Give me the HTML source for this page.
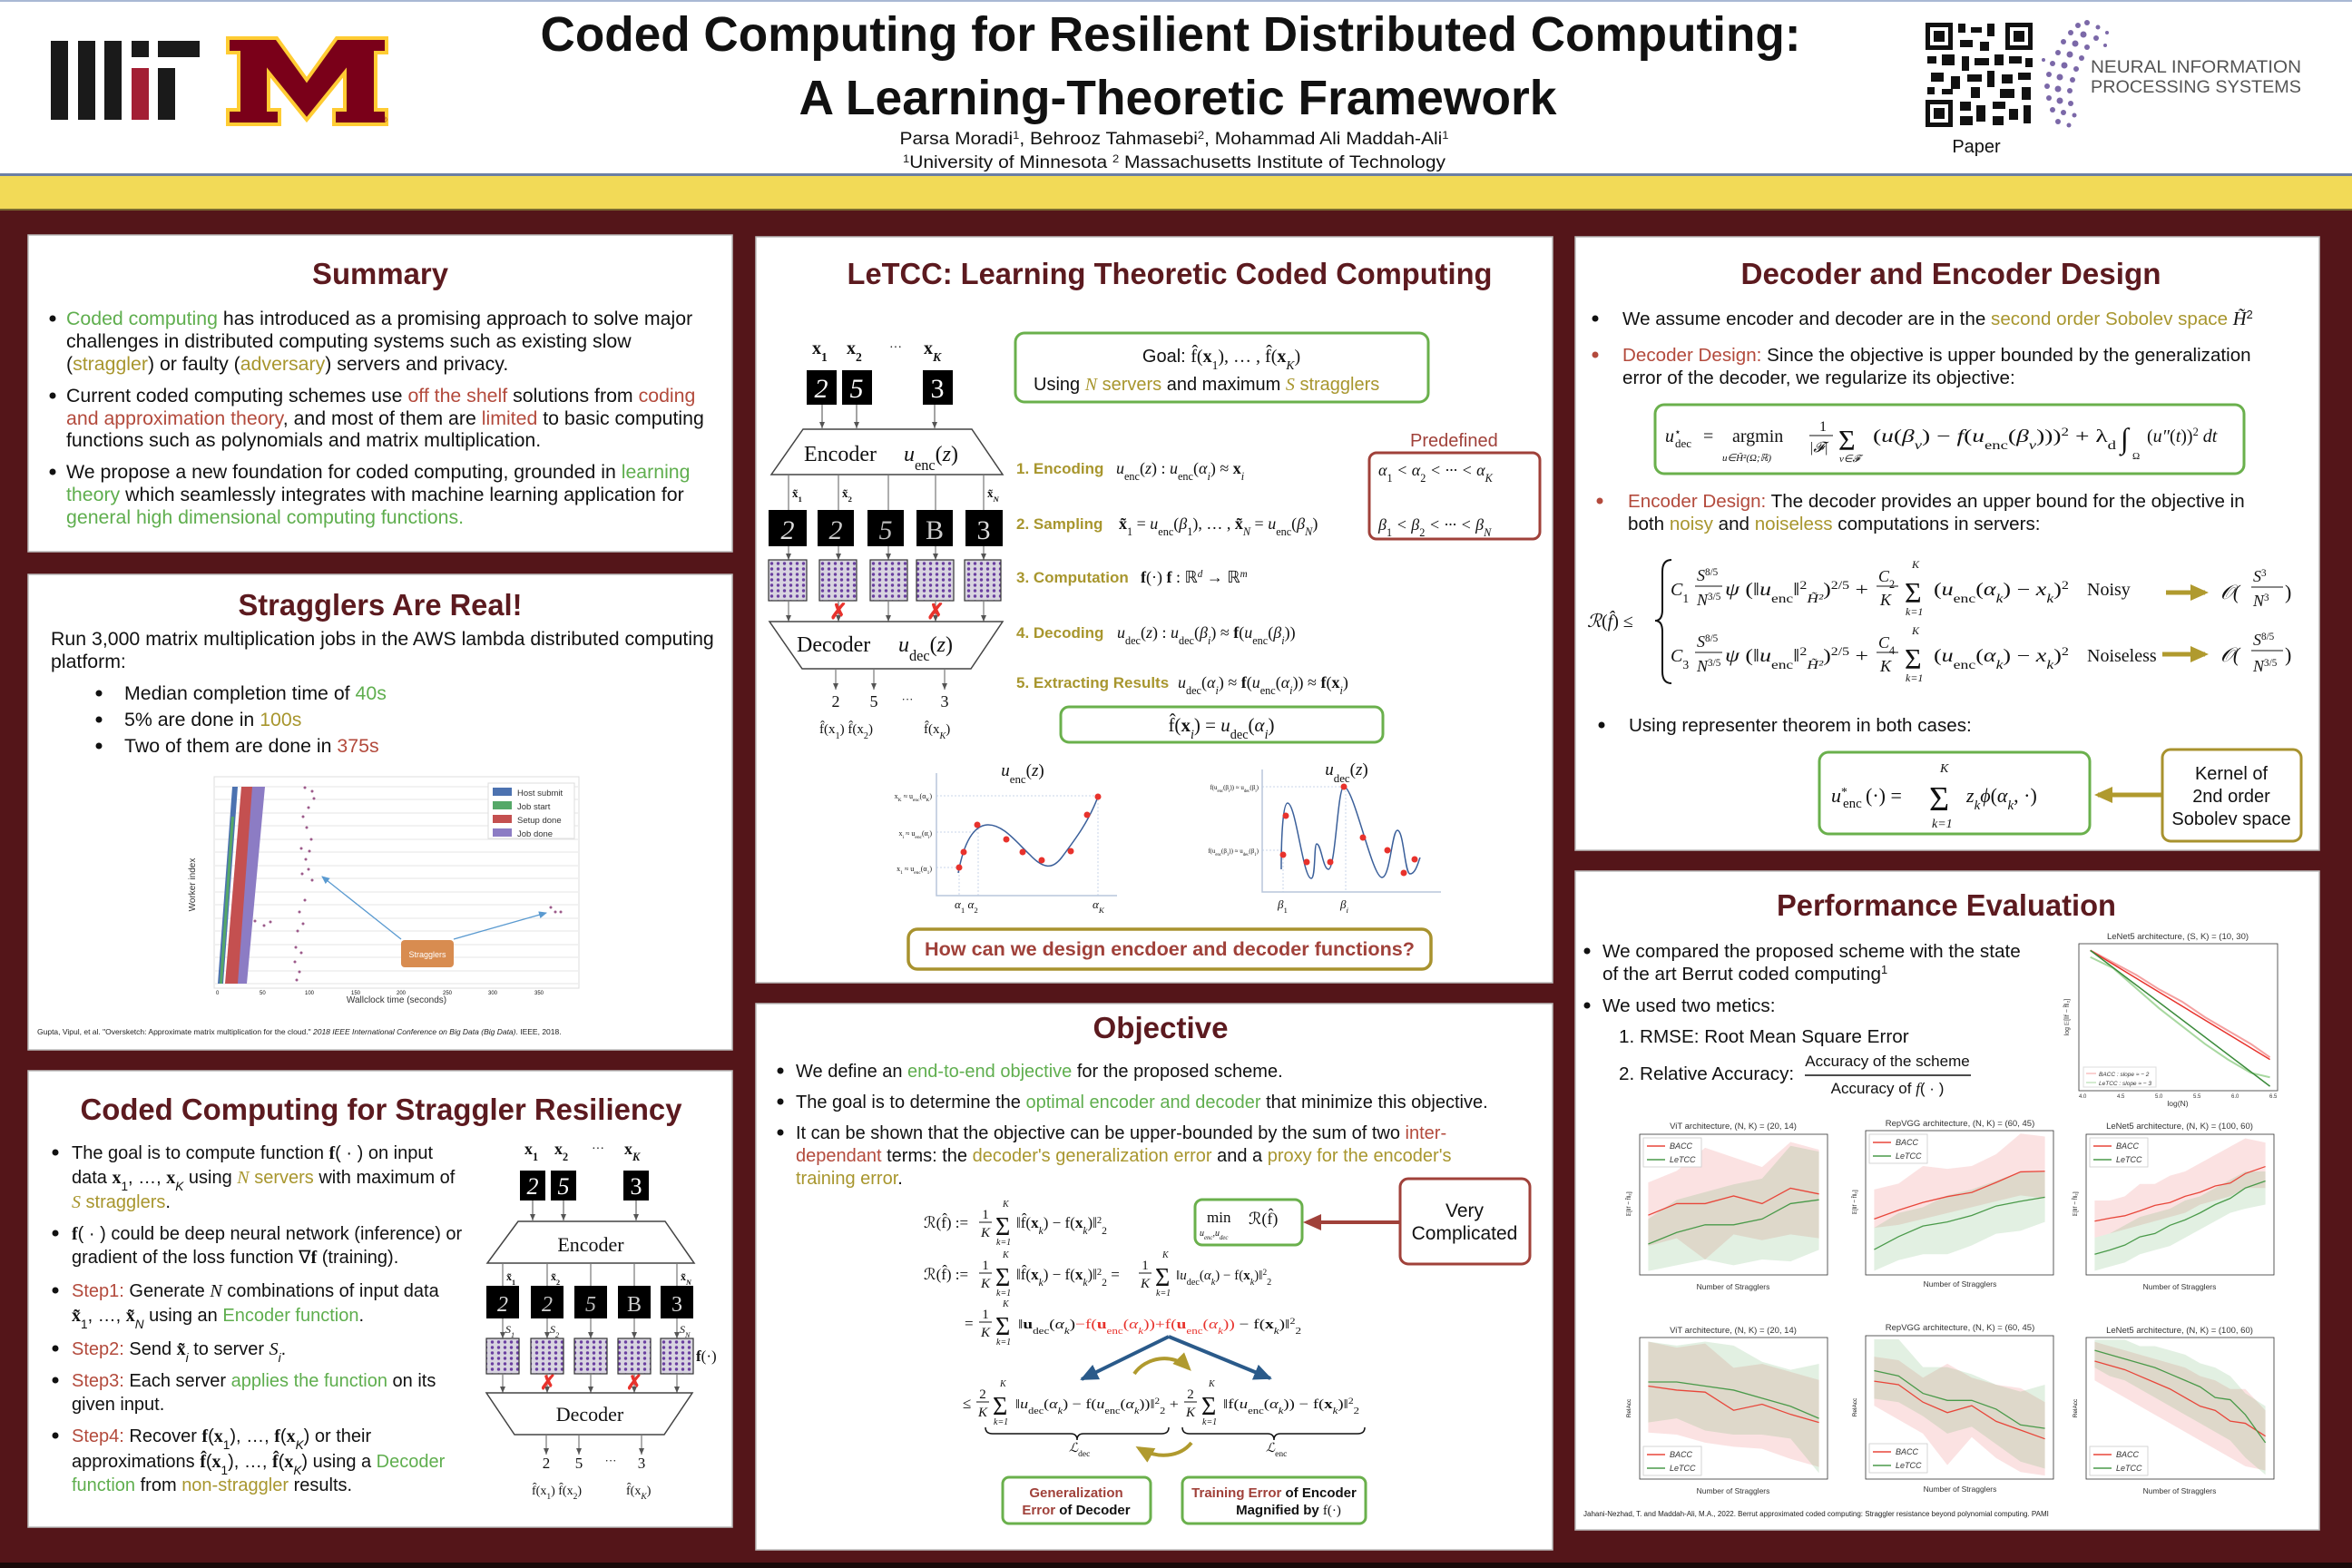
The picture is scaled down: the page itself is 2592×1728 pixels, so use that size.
<!DOCTYPE html>
<html><head><meta charset="utf-8">
<style>
html,body{margin:0;padding:0;background:#541519;}
svg{display:block;}
text{font-family:"Liberation Sans",Arial,sans-serif;fill:#111;}
.s{font-family:"Liberation Serif",serif;}
.i{font-style:italic;}
.b{font-weight:bold;}
.t{font-size:33px;font-weight:bold;fill:#5c1a1f;}
.bd{font-size:20px;}
.bA{font-size:21.3px;}
.bD{font-size:20.6px;}
.bP{font-size:20.7px;}
.g{fill:#5fae4e;}
.y{fill:#a8962e;}
.r{fill:#b34a3c;}
.sb{font-size:68%;baseline-shift:sub;}
.sp{font-size:62%;baseline-shift:super;}
.st{font-size:17px;font-weight:bold;fill:#a8962e;}
.m{font-family:"Liberation Serif",serif;font-size:18px;}
.ct{font-size:9.5px;fill:#333;}
.ax{font-size:8.5px;fill:#333;}
</style></head><body>
<svg width="2592" height="1728" viewBox="0 0 2592 1728" xmlns="http://www.w3.org/2000/svg">
<defs>
<marker id="ah" markerWidth="8" markerHeight="8" refX="7" refY="4" orient="auto" markerUnits="userSpaceOnUse"><path d="M0,1 L7,4 L0,7 Z" fill="#555"/></marker>
<marker id="bh" markerWidth="22" markerHeight="22" refX="18" refY="11" orient="auto" markerUnits="userSpaceOnUse"><path d="M0,2 L20,11 L0,20 Z" fill="#2a5a8a"/></marker>
<marker id="gh" markerWidth="22" markerHeight="22" refX="16" refY="11" orient="auto" markerUnits="userSpaceOnUse"><path d="M0,2 L20,11 L0,20 Z" fill="#b09a2e"/></marker>
<marker id="rh" markerWidth="22" markerHeight="22" refX="16" refY="11" orient="auto" markerUnits="userSpaceOnUse"><path d="M0,2 L20,11 L0,20 Z" fill="#a0413a"/></marker>
<marker id="lb" markerWidth="10" markerHeight="10" refX="8" refY="5" orient="auto" markerUnits="userSpaceOnUse"><path d="M0,1 L9,5 L0,9 Z" fill="#5a9ad0"/></marker>
<pattern id="nn" width="7" height="6" patternUnits="userSpaceOnUse"><rect width="7" height="6" fill="#d8d4e0"/><circle cx="3.5" cy="3" r="1.7" fill="#6a3fa0"/></pattern>
</defs>

<rect width="2592" height="1728" fill="#541519"/>
<rect x="0" y="0" width="2592" height="192" fill="#fff"/>
<rect x="0" y="0" width="2592" height="2" fill="#a9b8d4"/>
<rect x="0" y="191" width="2592" height="3" fill="#6b7fa3"/>
<rect x="0" y="194" width="2592" height="37" fill="#f2da57"/>
<rect x="0" y="230" width="2592" height="2" fill="#7a6a30"/>
<rect x="0" y="1722" width="2592" height="6" fill="#1a0a0a"/>

<g fill="#1a1a1a">
<rect x="56" y="45" width="19" height="87"/>
<rect x="86" y="45" width="19" height="87"/>
<rect x="115" y="45" width="19" height="87"/>
<rect x="145" y="45" width="19" height="18"/>
<rect x="145" y="75" width="19" height="57" fill="#a31f34"/>
<rect x="174" y="45" width="46" height="18"/>
<rect x="174" y="75" width="19" height="57"/>
</g>
<path d="M251,42 L305,42 L338,88 L371,42 L426,42 L426,58 L414,58 L414,121 L426,121 L426,137 L368,137 L368,121 L380,121 L380,80 L338,132 L296,80 L296,121 L308,121 L308,137 L251,137 L251,121 L263,121 L263,58 L251,58 Z" fill="#7a0019" stroke="#ffcc33" stroke-width="4"/>
<text x="420" y="135" style="font-size:9px;fill:#7a0019">®</text>

<text x="1290" y="56" text-anchor="middle" textLength="1389" lengthAdjust="spacingAndGlyphs" style="font-size:54px;font-weight:bold;">Coded Computing for Resilient Distributed Computing:</text>
<text x="1298" y="126" text-anchor="middle" textLength="835" lengthAdjust="spacingAndGlyphs" style="font-size:54px;font-weight:bold;">A Learning-Theoretic Framework</text>
<text x="1294" y="159" text-anchor="middle" textLength="605" lengthAdjust="spacingAndGlyphs" style="font-size:19px;">Parsa Moradi<tspan class="sp">1</tspan>, Behrooz Tahmasebi<tspan class="sp">2</tspan>, Mohammad Ali Maddah-Ali<tspan class="sp">1</tspan></text>
<text x="1294" y="185" text-anchor="middle" textLength="598" lengthAdjust="spacingAndGlyphs" style="font-size:19px;"><tspan class="sp">1</tspan>University of Minnesota <tspan class="sp">2</tspan> Massachusetts Institute of Technology</text>

<g fill="#111">
<rect x="2122" y="25" width="118" height="115" fill="#fff"/>
<rect x="2122" y="25" width="30" height="30"/><rect x="2127" y="30" width="20" height="20" fill="#fff"/><rect x="2131" y="34" width="12" height="12"/>
<rect x="2210" y="25" width="30" height="30"/><rect x="2215" y="30" width="20" height="20" fill="#fff"/><rect x="2219" y="34" width="12" height="12"/>
<rect x="2122" y="110" width="30" height="30"/><rect x="2127" y="115" width="20" height="20" fill="#fff"/><rect x="2131" y="119" width="12" height="12"/>
<rect x="2158" y="26" width="8" height="10"/><rect x="2172" y="30" width="12" height="6"/><rect x="2190" y="26" width="8" height="14"/><rect x="2160" y="44" width="14" height="8"/><rect x="2182" y="46" width="10" height="10"/>
<rect x="2124" y="62" width="10" height="8"/><rect x="2140" y="60" width="14" height="12"/><rect x="2162" y="62" width="8" height="16"/><rect x="2176" y="64" width="16" height="8"/><rect x="2198" y="60" width="10" height="12"/><rect x="2214" y="62" width="14" height="8"/><rect x="2232" y="64" width="8" height="10"/>
<rect x="2128" y="80" width="14" height="10"/><rect x="2150" y="84" width="10" height="14"/><rect x="2168" y="82" width="16" height="8"/><rect x="2190" y="78" width="8" height="18"/><rect x="2206" y="82" width="12" height="10"/><rect x="2224" y="80" width="14" height="8"/>
<rect x="2124" y="96" width="8" height="8"/><rect x="2140" y="98" width="12" height="6"/><rect x="2172" y="96" width="10" height="12"/><rect x="2204" y="98" width="16" height="10"/><rect x="2228" y="96" width="10" height="14"/>
<rect x="2160" y="112" width="12" height="10"/><rect x="2178" y="116" width="10" height="18"/><rect x="2196" y="112" width="14" height="8"/><rect x="2214" y="120" width="10" height="12"/><rect x="2230" y="116" width="8" height="20"/><rect x="2160" y="128" width="14" height="10"/><rect x="2196" y="128" width="12" height="10"/>
</g>
<text x="2178" y="168" text-anchor="middle" style="font-size:20px;">Paper</text>
<g fill="#7b68a8">
<circle cx="2290" cy="28" r="3"/><circle cx="2300" cy="25" r="3"/><circle cx="2312" cy="30" r="2.5"/><circle cx="2282" cy="36" r="3"/><circle cx="2296" cy="38" r="3.5"/><circle cx="2310" cy="42" r="3"/><circle cx="2274" cy="46" r="3"/><circle cx="2287" cy="48" r="3.5"/><circle cx="2300" cy="52" r="3"/><circle cx="2268" cy="58" r="3"/><circle cx="2281" cy="60" r="3.5"/><circle cx="2294" cy="64" r="3"/><circle cx="2262" cy="70" r="3"/><circle cx="2275" cy="72" r="3.5"/><circle cx="2288" cy="76" r="3"/><circle cx="2258" cy="82" r="3"/><circle cx="2270" cy="85" r="3.5"/><circle cx="2284" cy="88" r="3"/><circle cx="2256" cy="95" r="3"/><circle cx="2268" cy="98" r="3.5"/><circle cx="2281" cy="100" r="3"/><circle cx="2258" cy="108" r="3"/><circle cx="2270" cy="111" r="3.5"/><circle cx="2282" cy="114" r="3"/><circle cx="2262" cy="121" r="3"/><circle cx="2274" cy="124" r="3"/><circle cx="2286" cy="127" r="2.5"/><circle cx="2268" cy="134" r="3"/><circle cx="2280" cy="138" r="2.5"/><circle cx="2322" cy="36" r="2"/><circle cx="2320" cy="50" r="2"/><circle cx="2252" cy="66" r="2"/>
</g>
<text x="2304" y="80" textLength="232" lengthAdjust="spacingAndGlyphs" style="font-size:19px;fill:#555;">NEURAL INFORMATION</text>
<text x="2304" y="102" textLength="232" lengthAdjust="spacingAndGlyphs" style="font-size:19px;fill:#555;">PROCESSING SYSTEMS</text>

<g fill="#fff" stroke="#bbb" stroke-width="1.5">
<rect x="31" y="259" width="776" height="349"/>
<rect x="31" y="633" width="776" height="524"/>
<rect x="31" y="1180" width="776" height="503"/>
<rect x="833" y="261" width="878" height="822"/>
<rect x="833" y="1106" width="878" height="602"/>
<rect x="1736" y="261" width="820" height="676"/>
<rect x="1736" y="960" width="820" height="726"/>
</g>

<!-- Summary -->
<text class="t" x="419" y="313" text-anchor="middle" textLength="150" lengthAdjust="spacingAndGlyphs">Summary</text>
<g fill="#111"><circle cx="58" cy="351" r="3.5"/><circle cx="58" cy="436" r="3.5"/><circle cx="58" cy="520" r="3.5"/></g>
<text class="bA" x="73" y="358"><tspan class="g">Coded computing</tspan> has introduced as a promising approach to solve major</text>
<text class="bA" x="73" y="383">challenges in distributed computing systems such as existing slow</text>
<text class="bA" x="73" y="408">(<tspan class="y">straggler</tspan>) or faulty (<tspan class="y">adversary</tspan>) servers and privacy.</text>
<text class="bA" x="73" y="443">Current coded computing schemes use <tspan class="r">off the shelf</tspan> solutions from <tspan class="r">coding</tspan></text>
<text class="bA" x="73" y="468"><tspan class="r">and approximation theory</tspan>, and most of them are <tspan class="r">limited</tspan> to basic computing</text>
<text class="bA" x="73" y="492">functions such as polynomials and matrix multiplication.</text>
<text class="bA" x="73" y="527">We propose a new foundation for coded computing, grounded in <tspan class="g">learning</tspan></text>
<text class="bA" x="73" y="552"><tspan class="g">theory</tspan> which seamlessly integrates with machine learning application for</text>
<text class="bA" x="73" y="577"><tspan class="g">general high dimensional computing functions.</tspan></text>

<!-- Stragglers -->
<text class="t" x="419" y="678" text-anchor="middle" textLength="313" lengthAdjust="spacingAndGlyphs">Stragglers Are Real!</text>
<text class="bA" x="56" y="711">Run 3,000 matrix multiplication jobs in the AWS lambda distributed computing</text>
<text class="bA" x="56" y="736">platform:</text>
<g fill="#111"><circle cx="109" cy="764" r="3.5"/><circle cx="109" cy="793" r="3.5"/><circle cx="109" cy="822" r="3.5"/></g>
<text class="bA" x="137" y="771">Median completion time of <tspan class="g">40s</tspan></text>
<text class="bA" x="137" y="800">5% are done in <tspan class="y">100s</tspan></text>
<text class="bA" x="137" y="829">Two of them are done in <tspan class="r">375s</tspan></text>
<rect x="236" y="856" width="402" height="233" fill="#fff" stroke="#ddd"/>
<g stroke="#e6e6e6" stroke-width="1">
<line x1="237" y1="867" x2="637" y2="867"/><line x1="237" y1="881" x2="637" y2="881"/><line x1="237" y1="896" x2="637" y2="896"/><line x1="237" y1="910" x2="637" y2="910"/><line x1="237" y1="925" x2="637" y2="925"/><line x1="237" y1="939" x2="637" y2="939"/><line x1="237" y1="954" x2="637" y2="954"/><line x1="237" y1="968" x2="637" y2="968"/><line x1="237" y1="983" x2="637" y2="983"/><line x1="237" y1="997" x2="637" y2="997"/><line x1="237" y1="1012" x2="637" y2="1012"/><line x1="237" y1="1026" x2="637" y2="1026"/><line x1="237" y1="1041" x2="637" y2="1041"/><line x1="237" y1="1055" x2="637" y2="1055"/><line x1="237" y1="1070" x2="637" y2="1070"/><line x1="237" y1="1084" x2="637" y2="1084"/>
</g>
<polygon points="254,1084 272,1084 292,867 272,867" fill="#8c7cc4"/>
<polygon points="248,1084 262,1084 278,867 266,867" fill="#c45050"/>
<polygon points="240,1084 246,1084 262,867 256,867" fill="#4c72b0"/>
<polygon points="242,1084 245,1084 258,900 255,900" fill="#55a868"/>
<g fill="#9c5a8a">
<circle cx="336" cy="868" r="1.5"/><circle cx="344" cy="872" r="1.5"/><circle cx="340" cy="890" r="1.5"/><circle cx="334" cy="900" r="1.5"/><circle cx="338" cy="912" r="1.5"/><circle cx="343" cy="925" r="1.5"/><circle cx="332" cy="935" r="1.5"/><circle cx="337" cy="947" r="1.5"/><circle cx="340" cy="958" r="1.5"/><circle cx="333" cy="963" r="1.5"/><circle cx="344" cy="970" r="1.5"/><circle cx="336" cy="992" r="1.5"/><circle cx="330" cy="1005" r="1.5"/><circle cx="334" cy="1018" r="1.5"/><circle cx="328" cy="1026" r="1.5"/><circle cx="326" cy="1044" r="1.5"/><circle cx="332" cy="1050" r="1.5"/><circle cx="325" cy="1060" r="1.5"/><circle cx="330" cy="1071" r="1.5"/><circle cx="327" cy="1080" r="1.5"/><circle cx="346" cy="880" r="1.5"/><circle cx="341" cy="938" r="1.5"/><circle cx="281" cy="1015" r="1.5"/><circle cx="291" cy="1020" r="1.5"/><circle cx="298" cy="1016" r="1.5"/><circle cx="607" cy="1000" r="1.5"/><circle cx="612" cy="1005" r="1.5"/><circle cx="618" cy="1005" r="1.5"/>
</g>
<line x1="442" y1="1035" x2="355" y2="966" stroke="#5a9ad0" stroke-width="1.3" marker-end="url(#lb)"/>
<line x1="500" y1="1035" x2="602" y2="1006" stroke="#5a9ad0" stroke-width="1.3" marker-end="url(#lb)"/>
<rect x="442" y="1036" width="58" height="30" rx="4" fill="#d88c50"/>
<text x="471" y="1055" text-anchor="middle" style="font-size:9px;fill:#fff;">Stragglers</text>
<rect x="538" y="863" width="95" height="61" fill="#fff" stroke="#ddd"/>
<rect x="543" y="868" width="21" height="9" fill="#4c72b0"/><text x="570" y="877" style="font-size:9.5px;fill:#333">Host submit</text>
<rect x="543" y="883" width="21" height="9" fill="#55a868"/><text x="570" y="892" style="font-size:9.5px;fill:#333">Job start</text>
<rect x="543" y="898" width="21" height="9" fill="#c45050"/><text x="570" y="907" style="font-size:9.5px;fill:#333">Setup done</text>
<rect x="543" y="913" width="21" height="9" fill="#8c7cc4"/><text x="570" y="922" style="font-size:9.5px;fill:#333">Job done</text>
<text x="215" y="975" transform="rotate(-90 215 975)" text-anchor="middle" style="font-size:10px;fill:#333">Worker index</text>
<text x="437" y="1105" text-anchor="middle" style="font-size:10px;fill:#333">Wallclock time (seconds)</text>
<g style="font-size:6px;" fill="#333"><text x="238" y="1096">0</text><text x="286" y="1096">50</text><text x="336" y="1096">100</text><text x="387" y="1096">150</text><text x="437" y="1096">200</text><text x="488" y="1096">250</text><text x="538" y="1096">300</text><text x="589" y="1096">350</text></g>
<text x="41" y="1140" style="font-size:8.5px;fill:#222">Gupta, Vipul, et al. "Oversketch: Approximate matrix multiplication for the cloud." <tspan class="i">2018 IEEE International Conference on Big Data (Big Data)</tspan>. IEEE, 2018.</text>

<!-- Coded Computing -->
<text class="t" x="420" y="1234" text-anchor="middle" textLength="663" lengthAdjust="spacingAndGlyphs">Coded Computing for Straggler Resiliency</text>
<g fill="#111"><circle cx="61" cy="1270" r="3.5"/><circle cx="61" cy="1359" r="3.5"/><circle cx="61" cy="1422" r="3.5"/><circle cx="61" cy="1486" r="3.5"/><circle cx="61" cy="1521" r="3.5"/><circle cx="61" cy="1582" r="3.5"/></g>
<text class="bd" x="79" y="1277">The goal is to compute function <tspan class="s b">f</tspan>( · ) on input</text>
<text class="bd" x="79" y="1304">data <tspan class="s b">x</tspan><tspan class="sb">1</tspan>, …, <tspan class="s b">x</tspan><tspan class="sb i">K</tspan>  using <tspan class="y"><tspan class="s i">N</tspan> servers</tspan> with maximum of</text>
<text class="bd" x="79" y="1331"><tspan class="y"><tspan class="s i">S</tspan> stragglers</tspan>.</text>
<text class="bd" x="79" y="1366"><tspan class="s b">f</tspan>( · ) could be deep neural network (inference) or</text>
<text class="bd" x="79" y="1392">gradient of the loss function ∇<tspan class="s b">f</tspan> (training).</text>
<text class="bd" x="79" y="1429"><tspan class="r">Step1:</tspan> Generate <tspan class="s i">N</tspan> combinations of input data</text>
<text class="bd" x="79" y="1456"><tspan class="s b">x̃</tspan><tspan class="sb">1</tspan>, …, <tspan class="s b">x̃</tspan><tspan class="sb i">N</tspan> using an <tspan class="g">Encoder function</tspan>.</text>
<text class="bd" x="79" y="1493"><tspan class="r">Step2:</tspan> Send <tspan class="s b">x̃</tspan><tspan class="sb i">i</tspan> to server <tspan class="s i">S</tspan><tspan class="sb i">i</tspan>.</text>
<text class="bd" x="79" y="1528"><tspan class="r">Step3:</tspan> Each server <tspan class="g">applies the function</tspan> on its</text>
<text class="bd" x="79" y="1554">given input.</text>
<text class="bd" x="79" y="1589"><tspan class="r">Step4:</tspan> Recover <tspan class="s b">f</tspan>(<tspan class="s b">x</tspan><tspan class="sb">1</tspan>), …, <tspan class="s b">f</tspan>(<tspan class="s b">x</tspan><tspan class="sb i">K</tspan>) or their</text>
<text class="bd" x="79" y="1617">approximations <tspan class="s b">f̂</tspan>(<tspan class="s b">x</tspan><tspan class="sb">1</tspan>), …, <tspan class="s b">f̂</tspan>(<tspan class="s b">x</tspan><tspan class="sb i">K</tspan>) using a <tspan class="g">Decoder</tspan></text>
<text class="bd" x="79" y="1643"><tspan class="g">function</tspan> from <tspan class="y">non-straggler</tspan> results.</text>
<text x="578" y="1272" class="s b" style="font-size:18px">x<tspan class="sb">1</tspan></text>
<text x="611" y="1272" class="s b" style="font-size:18px">x<tspan class="sb">2</tspan></text>
<text x="652" y="1270" class="s" style="font-size:14px">···</text>
<text x="688" y="1272" class="s b" style="font-size:18px">x<tspan class="sb i">K</tspan></text>
<rect x="573" y="1290" width="28" height="33" fill="#000"/><text x="587" y="1316" text-anchor="middle" class="s i" style="font-size:26px;fill:#fff">2</text>
<rect x="607" y="1290" width="28" height="33" fill="#000"/><text x="621" y="1316" text-anchor="middle" class="s i" style="font-size:26px;fill:#fff">5</text>
<rect x="687" y="1290" width="28" height="33" fill="#000"/><text x="701" y="1316" text-anchor="middle" class="s" style="font-size:26px;fill:#fff">3</text>
<g stroke="#666" stroke-width="1.2" marker-end="url(#ah)">
<line x1="587" y1="1323" x2="587" y2="1345"/><line x1="621" y1="1323" x2="621" y2="1345"/><line x1="701" y1="1323" x2="701" y2="1345"/>
</g>
<polygon points="571,1346 733,1346 765,1392 537,1392" fill="#fff" stroke="#444" stroke-width="1.5"/>
<text x="651" y="1379" text-anchor="middle" class="s" style="font-size:22px">Encoder</text>
<g stroke="#777" stroke-width="1.2">
<line x1="554" y1="1392" x2="554" y2="1417"/><line x1="603" y1="1392" x2="603" y2="1417"/><line x1="651" y1="1392" x2="651" y2="1417"/><line x1="699" y1="1392" x2="699" y2="1417"/><line x1="746" y1="1392" x2="746" y2="1417"/>
</g>
<text x="558" y="1411" class="s b" style="font-size:12px">x̃<tspan class="sb">1</tspan></text>
<text x="607" y="1411" class="s b" style="font-size:12px">x̃<tspan class="sb">2</tspan></text>
<text x="750" y="1411" class="s b" style="font-size:12px">x̃<tspan class="sb i">N</tspan></text>
<rect x="536" y="1417" width="36" height="36" fill="#000"/><text x="554" y="1445" text-anchor="middle" class="s i" style="font-size:24px;fill:#ddd">2</text>
<rect x="585" y="1417" width="36" height="36" fill="#000"/><text x="603" y="1445" text-anchor="middle" class="s i" style="font-size:24px;fill:#ccc">2</text>
<rect x="633" y="1417" width="36" height="36" fill="#000"/><text x="651" y="1445" text-anchor="middle" class="s i" style="font-size:24px;fill:#bbb">5</text>
<rect x="681" y="1417" width="36" height="36" fill="#000"/><text x="699" y="1445" text-anchor="middle" class="s" style="font-size:24px;fill:#ccc">B</text>
<rect x="728" y="1417" width="36" height="36" fill="#000"/><text x="746" y="1445" text-anchor="middle" class="s" style="font-size:24px;fill:#ddd">3</text>
<g stroke="#777" stroke-width="1.2" marker-end="url(#ah)">
<line x1="554" y1="1453" x2="554" y2="1475"/><line x1="603" y1="1453" x2="603" y2="1475"/><line x1="651" y1="1453" x2="651" y2="1475"/><line x1="699" y1="1453" x2="699" y2="1475"/><line x1="746" y1="1453" x2="746" y2="1475"/>
</g>
<text x="557" y="1469" class="s i" style="font-size:12px">S<tspan class="sb">1</tspan></text><text x="606" y="1469" class="s i" style="font-size:12px">S<tspan class="sb">2</tspan></text><text x="749" y="1469" class="s i" style="font-size:12px">S<tspan class="sb">N</tspan></text>
<g stroke="#333" stroke-width="1.2" fill="url(#nn)">
<rect x="536" y="1475" width="36" height="39"/><rect x="585" y="1475" width="36" height="39"/><rect x="633" y="1475" width="36" height="39"/><rect x="681" y="1475" width="36" height="39"/><rect x="728" y="1475" width="36" height="39"/>
</g>
<text x="767" y="1500" class="s" style="font-size:17px"><tspan class="b">f</tspan>(·)</text>
<g stroke="#777" stroke-width="1.2" marker-end="url(#ah)">
<line x1="554" y1="1514" x2="554" y2="1535"/><line x1="603" y1="1514" x2="603" y2="1535"/><line x1="651" y1="1514" x2="651" y2="1535"/><line x1="699" y1="1514" x2="699" y2="1535"/><line x1="746" y1="1514" x2="746" y2="1535"/>
</g>
<text x="604" y="1531" text-anchor="middle" style="font-size:22px;font-weight:bold;fill:#e8322c">✗</text>
<text x="699" y="1531" text-anchor="middle" style="font-size:22px;font-weight:bold;fill:#e8322c">✗</text>
<polygon points="536,1535 763,1535 732,1581 567,1581" fill="#fff" stroke="#444" stroke-width="1.5"/>
<text x="650" y="1566" text-anchor="middle" class="s" style="font-size:22px">Decoder</text>
<g stroke="#777" stroke-width="1.2" marker-end="url(#ah)">
<line x1="602" y1="1581" x2="602" y2="1603"/><line x1="638" y1="1581" x2="638" y2="1603"/><line x1="707" y1="1581" x2="707" y2="1603"/>
</g>
<text x="602" y="1618" text-anchor="middle" class="s" style="font-size:17px">2</text>
<text x="638" y="1618" text-anchor="middle" class="s" style="font-size:17px">5</text>
<text x="673" y="1614" text-anchor="middle" class="s" style="font-size:13px">···</text>
<text x="707" y="1618" text-anchor="middle" class="s" style="font-size:17px">3</text>
<text x="586" y="1647" class="s" style="font-size:14px">f̂(x<tspan class="sb">1</tspan>) f̂(x<tspan class="sb">2</tspan>)</text>
<text x="690" y="1647" class="s" style="font-size:14px">f̂(x<tspan class="sb i">K</tspan>)</text>

<!-- LeTCC -->
<text class="t" x="1289" y="313" text-anchor="middle" textLength="711" lengthAdjust="spacingAndGlyphs">LeTCC: Learning Theoretic Coded Computing</text>
<text x="895" y="390" class="s b" style="font-size:20px">x<tspan class="sb">1</tspan></text>
<text x="933" y="390" class="s b" style="font-size:20px">x<tspan class="sb">2</tspan></text>
<text x="980" y="387" class="s" style="font-size:14px">···</text>
<text x="1018" y="390" class="s b" style="font-size:20px">x<tspan class="sb i">K</tspan></text>
<rect x="889" y="408" width="33" height="38" fill="#000"/><text x="905" y="438" text-anchor="middle" class="s i" style="font-size:30px;fill:#fff">2</text>
<rect x="928" y="408" width="33" height="38" fill="#000"/><text x="944" y="438" text-anchor="middle" class="s i" style="font-size:30px;fill:#fff">5</text>
<rect x="1017" y="408" width="33" height="38" fill="#000"/><text x="1033" y="438" text-anchor="middle" class="s" style="font-size:30px;fill:#fff">3</text>
<g stroke="#666" stroke-width="1.2" marker-end="url(#ah)">
<line x1="906" y1="446" x2="906" y2="472"/><line x1="944" y1="446" x2="944" y2="472"/><line x1="1030" y1="446" x2="1030" y2="472"/>
</g>
<polygon points="885,473 1071,473 1105,523 850,523" fill="#fff" stroke="#444" stroke-width="1.5"/>
<text x="886" y="508" class="s" style="font-size:24px">Encoder</text>
<text x="996" y="508" class="s i" style="font-size:24px">u<tspan class="sb" style="font-style:normal">enc</tspan><tspan style="font-style:normal">(</tspan>z<tspan style="font-style:normal">)</tspan></text>
<g stroke="#777" stroke-width="1.2">
<line x1="869" y1="523" x2="869" y2="562"/><line x1="924" y1="523" x2="924" y2="562"/><line x1="979" y1="523" x2="979" y2="562"/><line x1="1031" y1="523" x2="1031" y2="562"/><line x1="1084" y1="523" x2="1084" y2="562"/>
</g>
<text x="873" y="548" class="s b" style="font-size:13px">x̃<tspan class="sb">1</tspan></text>
<text x="928" y="548" class="s b" style="font-size:13px">x̃<tspan class="sb">2</tspan></text>
<text x="1088" y="548" class="s b" style="font-size:13px">x̃<tspan class="sb i">N</tspan></text>
<rect x="847" y="562" width="42" height="40" fill="#000"/><text x="868" y="594" text-anchor="middle" class="s i" style="font-size:30px;fill:#ddd">2</text>
<rect x="901" y="562" width="40" height="40" fill="#000"/><text x="921" y="594" text-anchor="middle" class="s i" style="font-size:30px;fill:#ccc">2</text>
<rect x="956" y="562" width="40" height="40" fill="#000"/><text x="976" y="594" text-anchor="middle" class="s i" style="font-size:30px;fill:#bbb">5</text>
<rect x="1010" y="562" width="40" height="40" fill="#000"/><text x="1030" y="594" text-anchor="middle" class="s" style="font-size:30px;fill:#ccc">B</text>
<rect x="1064" y="562" width="41" height="40" fill="#000"/><text x="1084" y="594" text-anchor="middle" class="s" style="font-size:30px;fill:#ddd">3</text>
<g stroke="#777" stroke-width="1.2" marker-end="url(#ah)">
<line x1="869" y1="602" x2="869" y2="617"/><line x1="924" y1="602" x2="924" y2="617"/><line x1="979" y1="602" x2="979" y2="617"/><line x1="1031" y1="602" x2="1031" y2="617"/><line x1="1084" y1="602" x2="1084" y2="617"/>
</g>
<g stroke="#333" stroke-width="1.2" fill="url(#nn)">
<rect x="847" y="617" width="42" height="45"/><rect x="903" y="617" width="41" height="45"/><rect x="959" y="617" width="41" height="45"/><rect x="1010" y="617" width="41" height="45"/><rect x="1063" y="617" width="40" height="45"/>
</g>
<g stroke="#777" stroke-width="1.2" marker-end="url(#ah)">
<line x1="869" y1="662" x2="869" y2="685"/><line x1="924" y1="662" x2="924" y2="685"/><line x1="979" y1="662" x2="979" y2="685"/><line x1="1031" y1="662" x2="1031" y2="685"/><line x1="1084" y1="662" x2="1084" y2="685"/>
</g>
<text x="924" y="682" text-anchor="middle" style="font-size:24px;font-weight:bold;fill:#e8322c">✗</text>
<text x="1031" y="682" text-anchor="middle" style="font-size:24px;font-weight:bold;fill:#e8322c">✗</text>
<polygon points="848,685 1105,685 1070,737 884,737" fill="#fff" stroke="#444" stroke-width="1.5"/>
<text x="878" y="718" class="s" style="font-size:24px">Decoder</text>
<text x="990" y="718" class="s i" style="font-size:24px">u<tspan class="sb" style="font-style:normal">dec</tspan><tspan style="font-style:normal">(</tspan>z<tspan style="font-style:normal">)</tspan></text>
<g stroke="#777" stroke-width="1.2" marker-end="url(#ah)">
<line x1="921" y1="737" x2="921" y2="760"/><line x1="963" y1="737" x2="963" y2="760"/><line x1="1041" y1="737" x2="1041" y2="760"/>
</g>
<text x="921" y="779" text-anchor="middle" class="s" style="font-size:18px">2</text>
<text x="963" y="779" text-anchor="middle" class="s" style="font-size:18px">5</text>
<text x="1000" y="775" text-anchor="middle" class="s" style="font-size:13px">···</text>
<text x="1041" y="779" text-anchor="middle" class="s" style="font-size:18px">3</text>
<text x="903" y="808" class="s" style="font-size:15px">f̂(x<tspan class="sb">1</tspan>) f̂(x<tspan class="sb">2</tspan>)</text>
<text x="1018" y="808" class="s" style="font-size:15px">f̂(x<tspan class="sb i">K</tspan>)</text>

<rect x="1119" y="367" width="455" height="76" rx="10" fill="#fff" stroke="#6ab04c" stroke-width="3"/>
<text x="1346" y="399" text-anchor="middle" style="font-size:20px">Goal: <tspan class="s">f̂(<tspan class="b">x</tspan><tspan class="sb">1</tspan>), … , f̂(<tspan class="b">x</tspan><tspan class="sb i">K</tspan>)</tspan></text>
<text x="1139" y="430" style="font-size:20px">Using <tspan class="y"><tspan class="s i">N</tspan> servers</tspan> and maximum <tspan class="y"><tspan class="s i">S</tspan> stragglers</tspan></text>
<text x="1554" y="492" style="font-size:20px;fill:#a0413a">Predefined</text>
<rect x="1509" y="499" width="188" height="95" rx="8" fill="#fff" stroke="#a0413a" stroke-width="3"/>
<text x="1519" y="524" class="s i" style="font-size:18px">α<tspan class="sb" style="font-style:normal">1</tspan> &lt; α<tspan class="sb" style="font-style:normal">2</tspan> &lt; ··· &lt; α<tspan class="sb">K</tspan></text>
<text x="1519" y="584" class="s i" style="font-size:18px">β<tspan class="sb" style="font-style:normal">1</tspan> &lt; β<tspan class="sb" style="font-style:normal">2</tspan> &lt; ··· &lt; β<tspan class="sb">N</tspan></text>
<text class="st" x="1120" y="522">1. Encoding</text>
<text class="m" x="1230" y="522"><tspan class="i">u</tspan><tspan class="sb">enc</tspan>(<tspan class="i">z</tspan>) : <tspan class="i">u</tspan><tspan class="sb">enc</tspan>(<tspan class="i">α</tspan><tspan class="sb i">i</tspan>) ≈ <tspan class="b">x</tspan><tspan class="sb i">i</tspan></text>
<text class="st" x="1120" y="583">2. Sampling</text>
<text class="m" x="1233" y="583"><tspan class="b">x̃</tspan><tspan class="sb">1</tspan> = <tspan class="i">u</tspan><tspan class="sb">enc</tspan>(<tspan class="i">β</tspan><tspan class="sb">1</tspan>), … , <tspan class="b">x̃</tspan><tspan class="sb i">N</tspan> = <tspan class="i">u</tspan><tspan class="sb">enc</tspan>(<tspan class="i">β</tspan><tspan class="sb i">N</tspan>)</text>
<text class="st" x="1120" y="642">3. Computation</text>
<text class="m" x="1257" y="642"><tspan class="b">f</tspan>(·)    <tspan class="b">f</tspan> : ℝ<tspan class="sp i">d</tspan> → ℝ<tspan class="sp i">m</tspan></text>
<text class="st" x="1120" y="703">4. Decoding</text>
<text class="m" x="1231" y="703"><tspan class="i">u</tspan><tspan class="sb">dec</tspan>(<tspan class="i">z</tspan>) : <tspan class="i">u</tspan><tspan class="sb">dec</tspan>(<tspan class="i">β</tspan><tspan class="sb i">i</tspan>) ≈ <tspan class="b">f</tspan>(<tspan class="i">u</tspan><tspan class="sb">enc</tspan>(<tspan class="i">β</tspan><tspan class="sb i">i</tspan>))</text>
<text class="st" x="1120" y="758">5. Extracting Results</text>
<text class="m" x="1298" y="758"><tspan class="i">u</tspan><tspan class="sb">dec</tspan>(<tspan class="i">α</tspan><tspan class="sb i">i</tspan>) ≈ <tspan class="b">f</tspan>(<tspan class="i">u</tspan><tspan class="sb">enc</tspan>(<tspan class="i">α</tspan><tspan class="sb i">i</tspan>)) ≈ <tspan class="b">f</tspan>(<tspan class="b">x</tspan><tspan class="sb i">i</tspan>)</text>
<rect x="1169" y="779" width="355" height="39" rx="9" fill="#fff" stroke="#6ab04c" stroke-width="3"/>
<text x="1346" y="806" text-anchor="middle" class="s" style="font-size:21px">f̂(<tspan class="b">x</tspan><tspan class="sb i">i</tspan>) = <tspan class="i">u</tspan><tspan class="sb">dec</tspan>(<tspan class="i">α</tspan><tspan class="sb i">i</tspan>)</text>

<text x="1127" y="855" text-anchor="middle" class="s i" style="font-size:19px">u<tspan class="sb" style="font-style:normal">enc</tspan><tspan style="font-style:normal">(</tspan>z<tspan style="font-style:normal">)</tspan></text>
<g stroke="#c8d4e8" stroke-width="1" stroke-dasharray="2,2">
<line x1="1032" y1="877" x2="1210" y2="877"/><line x1="1032" y1="917" x2="1077" y2="917"/><line x1="1032" y1="956" x2="1057" y2="956"/>
<line x1="1057" y1="956" x2="1057" y2="987"/><line x1="1078" y1="909" x2="1078" y2="987"/><line x1="1210" y1="877" x2="1210" y2="987"/>
</g>
<polyline points="1032,852 1032,987 1231,987" fill="none" stroke="#b8c6dc" stroke-width="1.5"/>
<path d="M1056,962 C1062,930 1072,910 1088,909 C1105,908 1120,928 1135,942 C1150,958 1160,958 1170,945 C1185,925 1200,905 1210,878" fill="none" stroke="#3a5f9a" stroke-width="1.5"/>
<g fill="#e8322c"><circle cx="1057" cy="956" r="3.5"/><circle cx="1062" cy="939" r="3.5"/><circle cx="1077" cy="909" r="3.5"/><circle cx="1109" cy="925" r="3.5"/><circle cx="1127" cy="939" r="3.5"/><circle cx="1148" cy="948" r="3.5"/><circle cx="1180" cy="938" r="3.5"/><circle cx="1198" cy="898" r="3.5"/><circle cx="1210" cy="878" r="3.5"/></g>
<g style="font-size:8px"><text x="1027" y="880" text-anchor="end" class="s">x<tspan class="sb">K</tspan> ≈ u<tspan class="sb">enc</tspan>(α<tspan class="sb">K</tspan>)</text><text x="1027" y="921" text-anchor="end" class="s">x<tspan class="sb">i</tspan> ≈ u<tspan class="sb">enc</tspan>(α<tspan class="sb">i</tspan>)</text><text x="1027" y="960" text-anchor="end" class="s">x<tspan class="sb">1</tspan> ≈ u<tspan class="sb">enc</tspan>(α<tspan class="sb">1</tspan>)</text></g>
<text x="1052" y="1001" class="s i" style="font-size:13px">α<tspan class="sb" style="font-style:normal">1</tspan>  α<tspan class="sb" style="font-style:normal">2</tspan></text>
<text x="1204" y="1001" class="s i" style="font-size:13px">α<tspan class="sb">K</tspan></text>
<text x="1484" y="854" text-anchor="middle" class="s i" style="font-size:19px">u<tspan class="sb" style="font-style:normal">dec</tspan><tspan style="font-style:normal">(</tspan>z<tspan style="font-style:normal">)</tspan></text>
<g stroke="#c8d4e8" stroke-width="1" stroke-dasharray="2,2">
<line x1="1391" y1="867" x2="1481" y2="867"/><line x1="1391" y1="937" x2="1414" y2="937"/><line x1="1414" y1="942" x2="1414" y2="983"/><line x1="1483" y1="867" x2="1483" y2="983"/>
</g>
<polyline points="1391,848 1391,983 1588,983" fill="none" stroke="#b8c6dc" stroke-width="1.5"/>
<path d="M1412,958 C1412,920 1414,885 1419,885 C1428,885 1436,968 1445,968 C1450,968 1448,930 1451,930 C1456,930 1458,958 1464,958 C1472,958 1474,867 1481,867 C1492,867 1512,967 1523,967 C1532,967 1534,915 1540,915 C1547,915 1548,963 1554,963 C1560,963 1563,950 1565,945" fill="none" stroke="#3a5f9a" stroke-width="1.5"/>
<g fill="#e8322c"><circle cx="1414" cy="942" r="3.5"/><circle cx="1417" cy="899" r="3.5"/><circle cx="1440" cy="950" r="3.5"/><circle cx="1466" cy="950" r="3.5"/><circle cx="1481" cy="867" r="3.5"/><circle cx="1502" cy="923" r="3.5"/><circle cx="1529" cy="937" r="3.5"/><circle cx="1547" cy="962" r="3.5"/><circle cx="1559" cy="947" r="3.5"/></g>
<g style="font-size:7px"><text x="1387" y="870" text-anchor="end" class="s">f(u<tspan class="sb">enc</tspan>(β<tspan class="sb">i</tspan>)) ≈ u<tspan class="sb">dec</tspan>(β<tspan class="sb">i</tspan>)</text><text x="1387" y="940" text-anchor="end" class="s">f(u<tspan class="sb">enc</tspan>(β<tspan class="sb">1</tspan>)) ≈ u<tspan class="sb">dec</tspan>(β<tspan class="sb">1</tspan>)</text></g>
<text x="1408" y="1001" class="s i" style="font-size:13px">β<tspan class="sb" style="font-style:normal">1</tspan></text>
<text x="1477" y="1001" class="s i" style="font-size:13px">β<tspan class="sb">i</tspan></text>
<rect x="1001" y="1024" width="576" height="44" rx="10" fill="#fff" stroke="#a8922e" stroke-width="3.5"/>
<text x="1289" y="1053" text-anchor="middle" textLength="540" lengthAdjust="spacingAndGlyphs" style="font-size:21px;font-weight:bold;fill:#a0413a">How can we design encdoer and decoder functions?</text>

<!-- Objective -->
<text class="t" x="1279" y="1144" text-anchor="middle" textLength="149" lengthAdjust="spacingAndGlyphs">Objective</text>
<g fill="#111"><circle cx="860" cy="1180" r="3.5"/><circle cx="860" cy="1214" r="3.5"/><circle cx="860" cy="1248" r="3.5"/></g>
<text class="bd" x="877" y="1187">We define an <tspan class="g">end-to-end objective</tspan> for the proposed scheme.</text>
<text class="bd" x="877" y="1221">The goal is to determine the <tspan class="g">optimal encoder and decoder</tspan> that minimize this objective.</text>
<text class="bd" x="877" y="1255">It can be shown that the objective can be upper-bounded by the sum of two <tspan class="r">inter-</tspan></text>
<text class="bd" x="877" y="1280"><tspan class="r">dependant</tspan> terms: the <tspan class="y">decoder's generalization error</tspan> and a <tspan class="y">proxy for the encoder's</tspan></text>
<text class="bd" x="877" y="1305"><tspan class="y">training error</tspan>.</text>
<text x="1018" y="1353" class="s" style="font-size:17px">ℛ(f̂) :=</text>
<text x="1086" y="1343" text-anchor="middle" class="s" style="font-size:15px">1</text><line x1="1079" y1="1347" x2="1093" y2="1347" stroke="#111"/><text x="1086" y="1363" text-anchor="middle" class="s i" style="font-size:15px">K</text>
<text x="1097" y="1361" class="s" style="font-size:28px">Σ</text><text x="1105" y="1330" class="s i" style="font-size:10px">K</text><text x="1098" y="1372" class="s i" style="font-size:10px">k=1</text>
<text x="1120" y="1353" class="s" style="font-size:17px">‖f̂(<tspan class="b">x</tspan><tspan class="sb i">k</tspan>) − f(<tspan class="b">x</tspan><tspan class="sb i">k</tspan>)‖<tspan class="sp">2</tspan><tspan class="sb">2</tspan></text>
<rect x="1317" y="1322" width="118" height="50" rx="8" fill="#fff" stroke="#6ab04c" stroke-width="3"/>
<text x="1330" y="1347" class="s" style="font-size:17px">min</text><text x="1376" y="1349" class="s" style="font-size:18px">ℛ(f̂)</text>
<text x="1322" y="1362" class="s i" style="font-size:10px">u<tspan class="sb">enc</tspan>,u<tspan class="sb">dec</tspan></text>
<line x1="1543" y1="1347" x2="1440" y2="1347" stroke="#a0413a" stroke-width="4" marker-end="url(#rh)"/>
<rect x="1543" y="1299" width="143" height="94" rx="9" fill="#fff" stroke="#a0413a" stroke-width="3"/>
<text x="1614" y="1341" text-anchor="middle" style="font-size:21px">Very</text>
<text x="1614" y="1366" text-anchor="middle" style="font-size:21px">Complicated</text>
<text x="1018" y="1410" class="s" style="font-size:17px">ℛ(f̂) :=</text>
<text x="1086" y="1399" text-anchor="middle" class="s" style="font-size:15px">1</text><line x1="1079" y1="1403" x2="1093" y2="1403" stroke="#111"/><text x="1086" y="1419" text-anchor="middle" class="s i" style="font-size:15px">K</text>
<text x="1097" y="1417" class="s" style="font-size:28px">Σ</text><text x="1105" y="1386" class="s i" style="font-size:10px">K</text><text x="1098" y="1428" class="s i" style="font-size:10px">k=1</text>
<text x="1120" y="1410" class="s" style="font-size:17px">‖f̂(<tspan class="b">x</tspan><tspan class="sb i">k</tspan>) − f(<tspan class="b">x</tspan><tspan class="sb i">k</tspan>)‖<tspan class="sp">2</tspan><tspan class="sb">2</tspan> =</text>
<text x="1262" y="1399" text-anchor="middle" class="s" style="font-size:15px">1</text><line x1="1255" y1="1403" x2="1269" y2="1403" stroke="#111"/><text x="1262" y="1419" text-anchor="middle" class="s i" style="font-size:15px">K</text>
<text x="1273" y="1417" class="s" style="font-size:28px">Σ</text><text x="1281" y="1386" class="s i" style="font-size:10px">K</text><text x="1274" y="1428" class="s i" style="font-size:10px">k=1</text>
<text x="1296" y="1410" class="s" style="font-size:15px">‖<tspan class="i">u</tspan><tspan class="sb">dec</tspan>(<tspan class="i">α</tspan><tspan class="sb i">k</tspan>) − f(<tspan class="b">x</tspan><tspan class="sb i">k</tspan>)‖<tspan class="sp">2</tspan><tspan class="sb">2</tspan></text>
<text x="1063" y="1464" class="s" style="font-size:17px">=</text>
<text x="1086" y="1453" text-anchor="middle" class="s" style="font-size:15px">1</text><line x1="1079" y1="1457" x2="1093" y2="1457" stroke="#111"/><text x="1086" y="1473" text-anchor="middle" class="s i" style="font-size:15px">K</text>
<text x="1097" y="1471" class="s" style="font-size:28px">Σ</text><text x="1105" y="1440" class="s i" style="font-size:10px">K</text><text x="1098" y="1482" class="s i" style="font-size:10px">k=1</text>
<text x="1122" y="1464" class="s" style="font-size:15px" textLength="312" lengthAdjust="spacingAndGlyphs">‖<tspan class="b">u</tspan><tspan class="sb">dec</tspan>(<tspan class="i">α</tspan><tspan class="sb i">k</tspan>)<tspan fill="#e8322c">−f(<tspan class="b" fill="#e8322c">u</tspan><tspan class="sb" fill="#e8322c">enc</tspan>(<tspan class="i" fill="#e8322c">α</tspan><tspan class="sb i" fill="#e8322c">k</tspan>))+f(<tspan class="b" fill="#e8322c">u</tspan><tspan class="sb" fill="#e8322c">enc</tspan>(<tspan class="i" fill="#e8322c">α</tspan><tspan class="sb i" fill="#e8322c">k</tspan>))</tspan> − f(<tspan class="b">x</tspan><tspan class="sb i">k</tspan>)‖<tspan class="sp">2</tspan><tspan class="sb">2</tspan></text>
<path d="M1288,1473 L1192,1520" stroke="#2a5a8a" stroke-width="4" fill="none" marker-end="url(#bh)"/>
<path d="M1288,1473 L1400,1519" stroke="#2a5a8a" stroke-width="4" fill="none" marker-end="url(#bh)"/>
<path d="M1250,1514 C1262,1496 1292,1490 1310,1508" stroke="#b09a2e" stroke-width="4" fill="none" marker-end="url(#gh)"/>
<path d="M1313,1590 C1300,1606 1276,1608 1255,1596" stroke="#b09a2e" stroke-width="4" fill="none" marker-end="url(#gh)"/>
<text x="1061" y="1552" class="s" style="font-size:17px">≤</text>
<text x="1083" y="1541" text-anchor="middle" class="s" style="font-size:15px">2</text><line x1="1076" y1="1545" x2="1090" y2="1545" stroke="#111"/><text x="1083" y="1561" text-anchor="middle" class="s i" style="font-size:15px">K</text>
<text x="1094" y="1559" class="s" style="font-size:28px">Σ</text><text x="1102" y="1528" class="s i" style="font-size:10px">K</text><text x="1095" y="1570" class="s i" style="font-size:10px">k=1</text>
<text x="1119" y="1552" class="s" style="font-size:15px" textLength="180" lengthAdjust="spacingAndGlyphs">‖<tspan class="i">u</tspan><tspan class="sb">dec</tspan>(<tspan class="i">α</tspan><tspan class="sb i">k</tspan>) − f(<tspan class="i">u</tspan><tspan class="sb">enc</tspan>(<tspan class="i">α</tspan><tspan class="sb i">k</tspan>))‖<tspan class="sp">2</tspan><tspan class="sb">2</tspan> +</text>
<text x="1312" y="1541" text-anchor="middle" class="s" style="font-size:15px">2</text><line x1="1305" y1="1545" x2="1319" y2="1545" stroke="#111"/><text x="1312" y="1561" text-anchor="middle" class="s i" style="font-size:15px">K</text>
<text x="1324" y="1559" class="s" style="font-size:28px">Σ</text><text x="1332" y="1528" class="s i" style="font-size:10px">K</text><text x="1325" y="1570" class="s i" style="font-size:10px">k=1</text>
<text x="1348" y="1552" class="s" style="font-size:15px" textLength="150" lengthAdjust="spacingAndGlyphs">‖f(<tspan class="i">u</tspan><tspan class="sb">enc</tspan>(<tspan class="i">α</tspan><tspan class="sb i">k</tspan>)) − f(<tspan class="b">x</tspan><tspan class="sb i">k</tspan>)‖<tspan class="sp">2</tspan><tspan class="sb">2</tspan></text>
<path d="M1086,1573 Q1086,1580 1094,1580 L1180,1580 Q1187,1580 1187,1587 Q1187,1580 1194,1580 L1280,1580 Q1288,1580 1288,1573" fill="none" stroke="#111" stroke-width="1.5"/>
<path d="M1303,1573 Q1303,1580 1311,1580 L1397,1580 Q1404,1580 1404,1587 Q1404,1580 1411,1580 L1496,1580 Q1504,1580 1504,1573" fill="none" stroke="#111" stroke-width="1.5"/>
<text x="1178" y="1600" class="s i" style="font-size:14px">ℒ<tspan class="sb" style="font-style:normal">dec</tspan></text>
<text x="1395" y="1600" class="s i" style="font-size:14px">ℒ<tspan class="sb" style="font-style:normal">enc</tspan></text>
<rect x="1105" y="1628" width="163" height="51" rx="7" fill="#fff" stroke="#6ab04c" stroke-width="3"/>
<text x="1186" y="1650" text-anchor="middle" style="font-size:15px;font-weight:bold;fill:#a0413a">Generalization</text>
<text x="1186" y="1669" text-anchor="middle" style="font-size:15px;font-weight:bold;"><tspan fill="#a0413a">Error</tspan> of Decoder</text>
<rect x="1303" y="1628" width="202" height="51" rx="7" fill="#fff" stroke="#6ab04c" stroke-width="3"/>
<text x="1404" y="1650" text-anchor="middle" style="font-size:15px;font-weight:bold;"><tspan fill="#a0413a">Training Error</tspan> of Encoder</text>
<text x="1420" y="1669" text-anchor="middle" style="font-size:15px;font-weight:bold;">Magnified by <tspan class="s" style="font-weight:normal">f(·)</tspan></text>

<!-- Decoder and Encoder Design -->
<text class="t" x="2150" y="313" text-anchor="middle" textLength="463" lengthAdjust="spacingAndGlyphs">Decoder and Encoder Design</text>
<circle cx="1758" cy="351" r="3.5" fill="#111"/><circle cx="1758" cy="391" r="3.5" fill="#b34a3c"/><circle cx="1763" cy="552" r="3.5" fill="#b34a3c"/><circle cx="1765" cy="799" r="3.5" fill="#111"/>
<text class="bD" x="1788" y="358">We assume encoder and decoder are in the <tspan class="y">second order Sobolev space</tspan> <tspan class="s i">H̃</tspan><tspan class="sp">2</tspan></text>
<text class="bD" x="1788" y="398"><tspan class="r">Decoder Design:</tspan> Since the objective is upper bounded by the generalization</text>
<text class="bD" x="1788" y="423">error of the decoder, we regularize its objective:</text>
<rect x="1824" y="446" width="649" height="76" rx="10" fill="#fff" stroke="#6ab04c" stroke-width="3"/>
<text x="1835" y="487" class="s i" style="font-size:20px">u<tspan class="sp" style="font-style:normal">⋆</tspan></text><text x="1846" y="493" class="s" style="font-size:13px">dec</text>
<text x="1877" y="487" class="s" style="font-size:20px">=</text>
<text x="1909" y="487" class="s" style="font-size:20px">argmin</text>
<text x="1898" y="508" class="s i" style="font-size:11px">u∈H̃²(Ω;ℝ)</text>
<text x="2005" y="475" class="s" style="font-size:16px">1</text><line x1="1994" y1="480" x2="2020" y2="480" stroke="#111"/><text x="1994" y="498" class="s i" style="font-size:16px">|𝓕|</text>
<text x="2026" y="496" class="s" style="font-size:32px">Σ</text><text x="2027" y="509" class="s i" style="font-size:11px">v∈𝓕</text>
<text x="2064" y="487" class="s" style="font-size:20px" textLength="268" lengthAdjust="spacingAndGlyphs">(<tspan class="i">u</tspan>(<tspan class="i">β</tspan><tspan class="sb i">v</tspan>) − <tspan class="i">f</tspan>(<tspan class="i">u</tspan><tspan class="sb">enc</tspan>(<tspan class="i">β</tspan><tspan class="sb i">v</tspan>)))<tspan class="sp">2</tspan> + λ<tspan class="sb">d</tspan></text>
<text x="2337" y="494" class="s" style="font-size:32px">∫</text><text x="2350" y="506" class="s" style="font-size:11px">Ω</text>
<text x="2366" y="487" class="s" style="font-size:20px">(<tspan class="i">u″</tspan>(<tspan class="i">t</tspan>))<tspan class="sp">2</tspan> <tspan class="i">dt</tspan></text>
<text class="bD" x="1794" y="559"><tspan class="r">Encoder Design:</tspan> The decoder provides an upper bound for the objective in</text>
<text class="bD" x="1794" y="584">both <tspan class="y">noisy</tspan> and <tspan class="y">noiseless</tspan> computations in servers:</text>
<text x="1749" y="691" class="s" style="font-size:20px"><tspan class="i">ℛ</tspan>(<tspan class="i">f̂</tspan>) ≤</text>
<path d="M1842,617 Q1832,617 1832,630 L1832,672 Q1832,684 1824,684 Q1832,684 1832,696 L1832,740 Q1832,753 1842,753" fill="none" stroke="#111" stroke-width="2"/>
<text x="1841" y="656" class="s i" style="font-size:20px">C<tspan class="sb" style="font-style:normal">1</tspan></text>
<text x="1870" y="640" class="s i" style="font-size:18px">S<tspan class="sp" style="font-style:normal">8/5</tspan></text><line x1="1868" y1="646" x2="1898" y2="646" stroke="#111"/><text x="1870" y="667" class="s i" style="font-size:18px">N<tspan class="sp" style="font-style:normal">3/5</tspan></text>
<text x="1901" y="656" class="s" style="font-size:20px" textLength="158" lengthAdjust="spacingAndGlyphs"><tspan class="i">ψ</tspan> (‖<tspan class="i">u</tspan><tspan class="sb">enc</tspan>‖<tspan class="sp">2</tspan><tspan class="sb i">H̃²</tspan>)<tspan class="sp">2/5</tspan> +</text>
<text x="2070" y="641" class="s i" style="font-size:18px">C<tspan class="sb" style="font-style:normal">2</tspan></text><line x1="2068" y1="646" x2="2092" y2="646" stroke="#111"/><text x="2072" y="667" class="s i" style="font-size:18px">K</text>
<text x="2099" y="664" class="s" style="font-size:32px">Σ</text><text x="2107" y="626" class="s i" style="font-size:12px">K</text><text x="2100" y="678" class="s i" style="font-size:12px">k=1</text>
<text x="2131" y="656" class="s" style="font-size:20px" textLength="149" lengthAdjust="spacingAndGlyphs">(<tspan class="i">u</tspan><tspan class="sb">enc</tspan>(<tspan class="i">α</tspan><tspan class="sb i">k</tspan>) − <tspan class="i">x</tspan><tspan class="sb i">k</tspan>)<tspan class="sp">2</tspan></text>
<text x="2300" y="656" class="s" style="font-size:20px">Noisy</text>
<text x="1841" y="729" class="s i" style="font-size:20px">C<tspan class="sb" style="font-style:normal">3</tspan></text>
<text x="1870" y="713" class="s i" style="font-size:18px">S<tspan class="sp" style="font-style:normal">8/5</tspan></text><line x1="1868" y1="719" x2="1898" y2="719" stroke="#111"/><text x="1870" y="740" class="s i" style="font-size:18px">N<tspan class="sp" style="font-style:normal">3/5</tspan></text>
<text x="1901" y="729" class="s" style="font-size:20px" textLength="158" lengthAdjust="spacingAndGlyphs"><tspan class="i">ψ</tspan> (‖<tspan class="i">u</tspan><tspan class="sb">enc</tspan>‖<tspan class="sp">2</tspan><tspan class="sb i">H̃²</tspan>)<tspan class="sp">2/5</tspan> +</text>
<text x="2070" y="714" class="s i" style="font-size:18px">C<tspan class="sb" style="font-style:normal">4</tspan></text><line x1="2068" y1="719" x2="2092" y2="719" stroke="#111"/><text x="2072" y="740" class="s i" style="font-size:18px">K</text>
<text x="2099" y="737" class="s" style="font-size:32px">Σ</text><text x="2107" y="699" class="s i" style="font-size:12px">K</text><text x="2100" y="751" class="s i" style="font-size:12px">k=1</text>
<text x="2131" y="729" class="s" style="font-size:20px" textLength="149" lengthAdjust="spacingAndGlyphs">(<tspan class="i">u</tspan><tspan class="sb">enc</tspan>(<tspan class="i">α</tspan><tspan class="sb i">k</tspan>) − <tspan class="i">x</tspan><tspan class="sb i">k</tspan>)<tspan class="sp">2</tspan></text>
<text x="2300" y="729" class="s" style="font-size:20px">Noiseless</text>
<line x1="2387" y1="653" x2="2430" y2="653" stroke="#b09a2e" stroke-width="5" marker-end="url(#gh)"/>
<line x1="2383" y1="721" x2="2430" y2="721" stroke="#b09a2e" stroke-width="5" marker-end="url(#gh)"/>
<text x="2447" y="660" class="s i" style="font-size:22px">𝒪(</text>
<text x="2483" y="641" class="s i" style="font-size:18px">S<tspan class="sp" style="font-style:normal">3</tspan></text><line x1="2481" y1="647" x2="2516" y2="647" stroke="#111"/><text x="2483" y="668" class="s i" style="font-size:18px">N<tspan class="sp" style="font-style:normal">3</tspan></text>
<text x="2518" y="660" class="s" style="font-size:22px">)</text>
<text x="2447" y="729" class="s i" style="font-size:22px">𝒪(</text>
<text x="2483" y="711" class="s i" style="font-size:18px">S<tspan class="sp" style="font-style:normal">8/5</tspan></text><line x1="2481" y1="717" x2="2516" y2="717" stroke="#111"/><text x="2483" y="740" class="s i" style="font-size:18px">N<tspan class="sp" style="font-style:normal">3/5</tspan></text>
<text x="2518" y="729" class="s" style="font-size:22px">)</text>
<text class="bD" x="1795" y="806">Using representer theorem in both cases:</text>
<rect x="2005" y="829" width="298" height="90" rx="10" fill="#fff" stroke="#6ab04c" stroke-width="3"/>
<text x="2018" y="884" class="s i" style="font-size:22px">u<tspan class="sp" style="font-style:normal">*</tspan></text><text x="2031" y="890" class="s" style="font-size:15px">enc</text>
<text x="2056" y="884" class="s" style="font-size:22px">(·) =</text>
<text x="2126" y="893" class="s" style="font-size:38px">Σ</text><text x="2138" y="851" class="s i" style="font-size:14px">K</text><text x="2129" y="912" class="s i" style="font-size:14px">k=1</text>
<text x="2167" y="884" class="s i" style="font-size:22px">z<tspan class="sb">k</tspan>ϕ<tspan style="font-style:normal">(</tspan>α<tspan class="sb">k</tspan><tspan style="font-style:normal">, ·)</tspan></text>
<line x1="2383" y1="876" x2="2312" y2="876" stroke="#b09a2e" stroke-width="5" marker-end="url(#gh)"/>
<rect x="2383" y="826" width="153" height="101" rx="9" fill="#fff" stroke="#a8922e" stroke-width="3"/>
<text x="2459" y="859" text-anchor="middle" style="font-size:20px">Kernel of</text>
<text x="2459" y="884" text-anchor="middle" style="font-size:20px">2nd order</text>
<text x="2459" y="909" text-anchor="middle" style="font-size:20px">Sobolev space</text>

<!-- Performance -->
<text class="t" x="2145" y="1009" text-anchor="middle" textLength="374" lengthAdjust="spacingAndGlyphs">Performance Evaluation</text>
<circle cx="1749" cy="1048" r="3.5" fill="#111"/><circle cx="1749" cy="1108" r="3.5" fill="#111"/>
<text class="bP" x="1766" y="1055">We compared the proposed scheme with the state</text>
<text class="bP" x="1766" y="1080">of the art Berrut coded computing<tspan class="sp">1</tspan></text>
<text class="bP" x="1766" y="1115">We used two metics:</text>
<text class="bP" x="1784" y="1149">1. RMSE: Root Mean Square Error</text>
<text class="bP" x="1784" y="1190">2. Relative Accuracy:</text>
<text x="2080" y="1175" text-anchor="middle" style="font-size:17px">Accuracy of the scheme</text>
<line x1="1989" y1="1185" x2="2172" y2="1185" stroke="#111" stroke-width="1.5"/>
<text x="2080" y="1205" text-anchor="middle" style="font-size:17px">Accuracy of <tspan class="s i">f</tspan>( · )</text>

<text x="2400" y="1035" text-anchor="middle" class="ct">LeNet5 architecture, (S, K) = (10, 30)</text>
<rect x="2291" y="1040" width="219" height="162" fill="#fff" stroke="#333" stroke-width="0.8"/>
<svg x="2291" y="1040" width="219" height="162" viewBox="3.95 -1.3 2.6 6.6" preserveAspectRatio="none">
<g transform="scale(1,-1)">
<polyline points="4.1,1.0 4.4,0.45 4.7,-0.1 5.0,-0.75 5.3,-1.3 5.6,-2.0 5.9,-2.6 6.2,-3.2 6.45,-3.8" fill="none" stroke="#f4a0a0" stroke-width="2" vector-effect="non-scaling-stroke"/>
<polyline points="4.1,0.7 4.4,0.2 4.7,-0.7 5.0,-1.6 5.3,-2.4 5.6,-3.2 5.9,-3.9 6.2,-4.5 6.45,-4.7" fill="none" stroke="#a8d8a0" stroke-width="2" vector-effect="non-scaling-stroke"/>
<line x1="4.1" y1="1.0" x2="6.45" y2="-3.9" stroke="#e8322c" stroke-width="1.5" vector-effect="non-scaling-stroke"/>
<line x1="4.1" y1="1.0" x2="6.45" y2="-5.1" stroke="#3a8a3a" stroke-width="1.5" vector-effect="non-scaling-stroke"/>
</g></svg>
<rect x="2296" y="1176" width="80" height="22" fill="#fff" stroke="#ddd"/>
<line x1="2299" y1="1183" x2="2310" y2="1183" stroke="#f4a0a0"/><text x="2313" y="1186" style="font-size:6.5px;font-style:italic;fill:#333">BACC : slope ≈ − 2</text>
<line x1="2299" y1="1193" x2="2310" y2="1193" stroke="#a8d8a0"/><text x="2313" y="1196" style="font-size:6.5px;font-style:italic;fill:#333">LeTCC : slope ≈ − 3</text>
<text x="2400" y="1219" text-anchor="middle" class="ax">log(N)</text>
<text x="2291" y="1210" class="ax" style="font-size:6px">4.0</text><text x="2333" y="1210" class="ax" style="font-size:6px">4.5</text><text x="2375" y="1210" class="ax" style="font-size:6px">5.0</text><text x="2417" y="1210" class="ax" style="font-size:6px">5.5</text><text x="2459" y="1210" class="ax" style="font-size:6px">6.0</text><text x="2501" y="1210" class="ax" style="font-size:6px">6.5</text>
<text x="2280" y="1121" transform="rotate(-90 2280 1121)" text-anchor="middle" style="font-size:7px;fill:#333">log 𝔼[‖f − f̂‖₂]</text>

<text x="1910" y="1244" text-anchor="middle" class="ct">ViT architecture, (N, K) = (20, 14)</text>
<text x="2160" y="1241" text-anchor="middle" class="ct">RepVGG architecture, (N, K) = (60, 45)</text>
<text x="2402" y="1244" text-anchor="middle" class="ct">LeNet5 architecture, (N, K) = (100, 60)</text>
<text x="1910" y="1469" text-anchor="middle" class="ct">ViT architecture, (N, K) = (20, 14)</text>
<text x="2160" y="1466" text-anchor="middle" class="ct">RepVGG architecture, (N, K) = (60, 45)</text>
<text x="2402" y="1469" text-anchor="middle" class="ct">LeNet5 architecture, (N, K) = (100, 60)</text>
<text x="1910" y="1421" text-anchor="middle" class="ax">Number of Stragglers</text>
<text x="2160" y="1418" text-anchor="middle" class="ax">Number of Stragglers</text>
<text x="2402" y="1421" text-anchor="middle" class="ax">Number of Stragglers</text>
<text x="1910" y="1646" text-anchor="middle" class="ax">Number of Stragglers</text>
<text x="2160" y="1644" text-anchor="middle" class="ax">Number of Stragglers</text>
<text x="2402" y="1646" text-anchor="middle" class="ax">Number of Stragglers</text>
<text x="1797" y="1327" transform="rotate(-90 1797 1327)" text-anchor="middle" style="font-size:6.5px">𝔼[‖f − f̂‖₂]</text>
<text x="2046" y="1325" transform="rotate(-90 2046 1325)" text-anchor="middle" style="font-size:6.5px">𝔼[‖f − f̂‖₂]</text>
<text x="2289" y="1327" transform="rotate(-90 2289 1327)" text-anchor="middle" style="font-size:6.5px">𝔼[‖f − f̂‖₂]</text>
<text x="1797" y="1552" transform="rotate(-90 1797 1552)" text-anchor="middle" style="font-size:6.5px">RelAcc</text>
<text x="2046" y="1551" transform="rotate(-90 2046 1551)" text-anchor="middle" style="font-size:6.5px">RelAcc</text>
<text x="2289" y="1552" transform="rotate(-90 2289 1552)" text-anchor="middle" style="font-size:6.5px">RelAcc</text>

<g fill="#fff" stroke="#333" stroke-width="0.8">
<rect x="1807" y="1250" width="207" height="155"/><rect x="2056" y="1246" width="207" height="159"/><rect x="2299" y="1250" width="207" height="155"/>
<rect x="1807" y="1474" width="207" height="156"/><rect x="2056" y="1472" width="207" height="158"/><rect x="2299" y="1474" width="207" height="156"/>
</g>

<svg x="1807" y="1250" width="207" height="155" viewBox="-0.3 -1.31 6.6 0.73" preserveAspectRatio="none"><g transform="scale(1,-1)">
<polygon points="0,1.06 1,1.12 2,1.24 3,1.19 4,1.14 5,1.27 6,1.23 6,.77 5,.79 4,.76 3,.79 2,.66 1,.77 0,.73" fill="rgba(240,140,140,0.25)"/>
<polygon points="0,.87 1,.97 2,1.01 3,1.05 4,1.08 5,1.25 6,1.22 6,.71 5,.65 4,.66 3,.63 2,.66 1,.63 0,.6" fill="rgba(110,180,110,0.2)"/>
<polyline points="0,.89 1,.95 2,.95 3,.99 4,.95 5,1.03 6,1.0" fill="none" stroke="#e8463a" stroke-width="1.3" vector-effect="non-scaling-stroke"/>
<polyline points="0,.74 1,.8 2,.84 3,.84 4,.87 5,.95 6,.97" fill="none" stroke="#4a9a4a" stroke-width="1.3" vector-effect="non-scaling-stroke"/>
</g></svg>
<svg x="2056" y="1246" width="207" height="159" viewBox="-0.7 -3.9 15.4 2.45" preserveAspectRatio="none"><g transform="scale(1,-1)">
<polygon points="0,2.9 2,3.0 4,3.3 6,3.25 8,3.3 10,3.5 12,3.85 14,3.8 14,2.75 12,2.8 10,2.7 8,2.6 6,2.5 4,2.4 2,2.3 0,2.25" fill="rgba(240,140,140,0.25)"/>
<polygon points="0,2.25 2,2.5 4,2.6 6,2.8 8,2.9 10,3.05 12,3.2 14,3.2 14,2.35 12,2.2 10,2.15 8,1.95 6,1.8 4,1.8 2,1.7 0,1.52" fill="rgba(110,180,110,0.2)"/>
<polyline points="0,2.4 2,2.55 4,2.68 6,2.78 8,2.85 10,3.02 12,3.2 14,3.21" fill="none" stroke="#e8463a" stroke-width="1.3" vector-effect="non-scaling-stroke"/>
<polyline points="0,1.88 2,2.1 4,2.28 6,2.35 8,2.46 10,2.62 12,2.7 14,2.77" fill="none" stroke="#4a9a4a" stroke-width="1.3" vector-effect="non-scaling-stroke"/>
</g></svg>
<svg x="2299" y="1250" width="207" height="155" viewBox="-1.7 -4.5 37.4 3.4" preserveAspectRatio="none"><g transform="scale(1,-1)">
<polygon points="0,2.9 3,2.9 6,3.0 9,3.3 12,3.3 15,3.5 18,3.6 21,3.8 24,4.0 27,4.2 30,4.4 34,4.3 34,3.2 30,3.2 27,3.0 24,2.9 21,2.8 18,2.6 15,2.5 12,2.4 9,2.3 6,2.2 3,2.1 0,2.0" fill="rgba(240,140,140,0.25)"/>
<polygon points="0,2.0 3,2.1 6,2.3 9,2.5 12,2.6 15,2.7 18,2.9 21,3.0 24,3.2 27,3.4 30,3.6 34,3.6 34,2.8 30,2.7 27,2.6 24,2.4 21,2.2 18,2.0 15,1.8 12,1.7 9,1.6 6,1.4 3,1.3 0,1.2" fill="rgba(110,180,110,0.2)"/>
<polyline points="0,2.4 3,2.47 6,2.53 9,2.65 12,2.78 15,2.85 18,3.0 21,3.1 24,3.25 27,3.32 30,3.55 34,3.72" fill="none" stroke="#e8463a" stroke-width="1.3" vector-effect="non-scaling-stroke"/>
<polyline points="0,1.6 3,1.7 6,1.82 9,2.02 12,2.1 15,2.3 18,2.43 21,2.6 24,2.8 27,2.95 30,3.2 34,3.37" fill="none" stroke="#4a9a4a" stroke-width="1.3" vector-effect="non-scaling-stroke"/>
</g></svg>
<svg x="1807" y="1474" width="207" height="156" viewBox="-0.3 -1.1 6.6 0.7" preserveAspectRatio="none"><g transform="scale(1,-1)">
<polygon points="0,1.08 1,1.05 2,1.07 3,.95 4,.97 5,.93 6,.89 6,.46 5,.5 4,.55 3,.56 2,.58 1,.62 0,.63" fill="rgba(240,140,140,0.25)"/>
<polygon points="0,1.08 1,1.06 2,1.08 3,1.06 4,.98 5,.94 6,.97 6,.43 5,.6 4,.62 3,.62 2,.64 1,.7 0,.68" fill="rgba(110,180,110,0.2)"/>
<polyline points="0,.86 1,.84 2,.83 3,.74 4,.77 5,.72 6,.68" fill="none" stroke="#e8463a" stroke-width="1.3" vector-effect="non-scaling-stroke"/>
<polyline points="0,.88 1,.88 2,.86 3,.84 4,.80 5,.76 6,.70" fill="none" stroke="#4a9a4a" stroke-width="1.3" vector-effect="non-scaling-stroke"/>
</g></svg>
<svg x="2056" y="1472" width="207" height="158" viewBox="-0.7 -1.0 15.4 0.41" preserveAspectRatio="none"><g transform="scale(1,-1)">
<polygon points="0,.94 2,.93 4,.88 6,.92 8,.88 10,.86 12,.85 14,.81 14,.6 12,.61 10,.65 8,.71 6,.63 4,.72 2,.76 0,.8" fill="rgba(240,140,140,0.25)"/>
<polygon points="0,.99 2,.99 4,.91 6,.91 8,.89 10,.86 12,.84 14,.86 14,.62 12,.64 10,.69 8,.74 6,.72 4,.77 2,.81 0,.82" fill="rgba(110,180,110,0.2)"/>
<polyline points="0,.87 2,.86 4,.81 6,.78 8,.80 10,.755 12,.73 14,.705" fill="none" stroke="#e8463a" stroke-width="1.3" vector-effect="non-scaling-stroke"/>
<polyline points="0,.90 2,.885 4,.835 6,.815 8,.815 10,.79 12,.745 14,.735" fill="none" stroke="#4a9a4a" stroke-width="1.3" vector-effect="non-scaling-stroke"/>
</g></svg>
<svg x="2299" y="1474" width="207" height="156" viewBox="-1.7 -1.02 37.4 0.33" preserveAspectRatio="none"><g transform="scale(1,-1)">
<polygon points="0,1.01 3,1.0 6,.99 9,.98 12,.97 15,.96 18,.95 21,.93 24,.92 27,.9 30,.9 34,.85 34,.71 30,.72 27,.74 24,.76 21,.78 18,.8 15,.82 12,.84 9,.86 6,.88 3,.9 0,.92" fill="rgba(240,140,140,0.25)"/>
<polygon points="0,1.015 3,1.015 6,1.015 9,1.0 12,1.0 15,.99 18,.98 21,.96 24,.95 27,.93 30,.89 34,.86 34,.70 30,.74 27,.78 24,.8 21,.82 18,.84 15,.86 12,.88 9,.9 6,.92 3,.93 0,.95" fill="rgba(110,180,110,0.2)"/>
<polyline points="0,.965 3,.955 6,.945 9,.93 12,.915 15,.90 18,.88 21,.86 24,.85 27,.825 30,.82 34,.79" fill="none" stroke="#e8463a" stroke-width="1.3" vector-effect="non-scaling-stroke"/>
<polyline points="0,.99 3,.98 6,.97 9,.96 12,.95 15,.935 18,.92 21,.905 24,.88 27,.875 30,.84 34,.775" fill="none" stroke="#4a9a4a" stroke-width="1.3" vector-effect="non-scaling-stroke"/>
</g></svg>
<g>
<rect x="1811" y="1254" width="64" height="32" fill="#fff" stroke="#ccc" stroke-width="0.8"/><line x1="1815" y1="1263" x2="1835" y2="1263" stroke="#e8463a" stroke-width="1.5"/><text x="1840" y="1266" style="font-size:9px;font-style:italic;fill:#333">BACC</text><line x1="1815" y1="1278" x2="1835" y2="1278" stroke="#4a9a4a" stroke-width="1.5"/><text x="1840" y="1281" style="font-size:9px;font-style:italic;fill:#333">LeTCC</text>
<rect x="2060" y="1250" width="64" height="32" fill="#fff" stroke="#ccc" stroke-width="0.8"/><line x1="2064" y1="1259" x2="2084" y2="1259" stroke="#e8463a" stroke-width="1.5"/><text x="2089" y="1262" style="font-size:9px;font-style:italic;fill:#333">BACC</text><line x1="2064" y1="1274" x2="2084" y2="1274" stroke="#4a9a4a" stroke-width="1.5"/><text x="2089" y="1277" style="font-size:9px;font-style:italic;fill:#333">LeTCC</text>
<rect x="2303" y="1254" width="64" height="32" fill="#fff" stroke="#ccc" stroke-width="0.8"/><line x1="2307" y1="1263" x2="2327" y2="1263" stroke="#e8463a" stroke-width="1.5"/><text x="2332" y="1266" style="font-size:9px;font-style:italic;fill:#333">BACC</text><line x1="2307" y1="1278" x2="2327" y2="1278" stroke="#4a9a4a" stroke-width="1.5"/><text x="2332" y="1281" style="font-size:9px;font-style:italic;fill:#333">LeTCC</text>
<rect x="1811" y="1594" width="64" height="32" fill="#fff" stroke="#ccc" stroke-width="0.8"/><line x1="1815" y1="1603" x2="1835" y2="1603" stroke="#e8463a" stroke-width="1.5"/><text x="1840" y="1606" style="font-size:9px;font-style:italic;fill:#333">BACC</text><line x1="1815" y1="1618" x2="1835" y2="1618" stroke="#4a9a4a" stroke-width="1.5"/><text x="1840" y="1621" style="font-size:9px;font-style:italic;fill:#333">LeTCC</text>
<rect x="2060" y="1591" width="64" height="32" fill="#fff" stroke="#ccc" stroke-width="0.8"/><line x1="2064" y1="1600" x2="2084" y2="1600" stroke="#e8463a" stroke-width="1.5"/><text x="2089" y="1603" style="font-size:9px;font-style:italic;fill:#333">BACC</text><line x1="2064" y1="1615" x2="2084" y2="1615" stroke="#4a9a4a" stroke-width="1.5"/><text x="2089" y="1618" style="font-size:9px;font-style:italic;fill:#333">LeTCC</text>
<rect x="2303" y="1594" width="64" height="32" fill="#fff" stroke="#ccc" stroke-width="0.8"/><line x1="2307" y1="1603" x2="2327" y2="1603" stroke="#e8463a" stroke-width="1.5"/><text x="2332" y="1606" style="font-size:9px;font-style:italic;fill:#333">BACC</text><line x1="2307" y1="1618" x2="2327" y2="1618" stroke="#4a9a4a" stroke-width="1.5"/><text x="2332" y="1621" style="font-size:9px;font-style:italic;fill:#333">LeTCC</text>
</g>
<text x="1745" y="1671" style="font-size:8px;fill:#222">Jahani-Nezhad, T. and Maddah-Ali, M.A., 2022. Berrut approximated coded computing: Straggler resistance beyond polynomial computing. PAMI</text>
</svg>
</body></html>
